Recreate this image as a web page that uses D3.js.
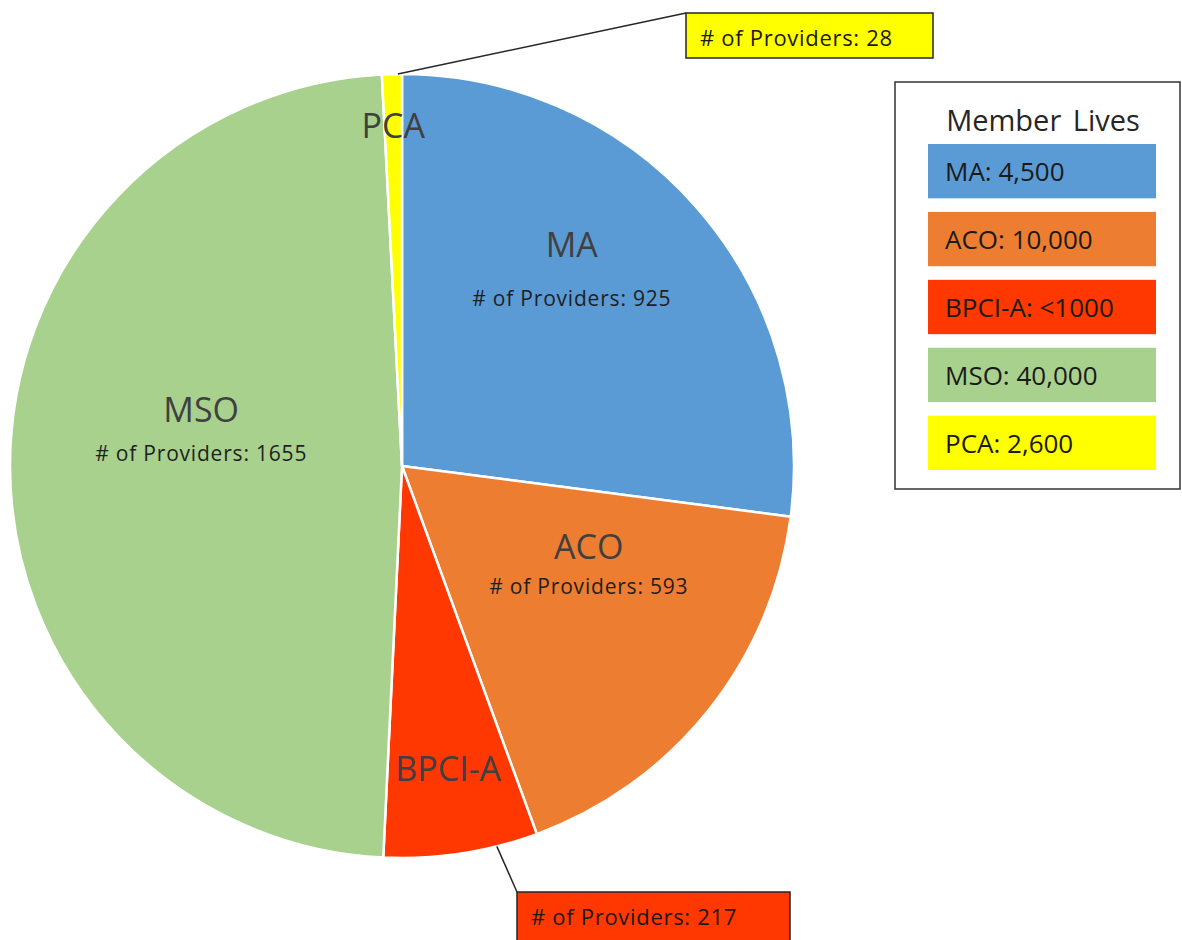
<!DOCTYPE html>
<html>
<head>
<meta charset="utf-8">
<script src="https://cdn.jsdelivr.net/npm/d3@7"></script>
<style>
  body { margin: 0; background: #fff; }
  svg { display: block; font-family: "Open Sans", "Noto Sans", sans-serif; }
</style>
</head>
<body>
<script>
// data
var categories = ['MA', 'ACO', 'BPCI-A', 'MSO', 'PCA'];
var providers = [925, 593, 217, 1655, 28];
var memberLives = ['4,500', '10,000', '<1000', '40,000', '2,600'];
var colors = ['#5b9bd5', '#ed7d31', '#ff3700', '#a9d18e', '#ffff00'];

var width = 1182, height = 940;
var cx = 402, cy = 466, radius = 392;

// where the labels sit: fraction of radius + angle nudge (deg)
var labelLayout = {
  'MA':     { r: 0.66, nudge: -7.7, gap: 27, big: true },
  'ACO':    { r: 0.54, nudge: -10.6, gap: 20, big: true },
  'BPCI-A': { r: 0.78, nudge: 0, big: false },
  'MSO':    { r: 0.52, nudge: 10, gap: 22, big: true },
  'PCA':    { r: 0.87, nudge: 0, big: false }
};
// callouts for the thin slices
var callouts = {
  'PCA':    { angle: -0.6, box: [686, 13, 247, 45] },
  'BPCI-A': { angle: 166, box: [517, 892, 273, 60] }
};

var rad = a => a * Math.PI / 180;
var polar = (deg, r) => [cx + r * Math.sin(rad(deg)), cy - r * Math.cos(rad(deg))];

var svg = d3.select('body').append('svg')
    .attr('width', width)
    .attr('height', height);

var pie = d3.pie().sort(null).value(d => d.value);
var arc = d3.arc().innerRadius(0).outerRadius(radius);

var data = categories.map((c, i) => ({ name: c, value: providers[i], lives: memberLives[i], color: colors[i] }));
var arcs = pie(data);

var g = svg.append('g').attr('transform', `translate(${cx},${cy})`);

g.selectAll('path.slice')
  .data(arcs)
  .enter().append('path')
    .attr('class', 'slice')
    .attr('d', arc)
    .attr('fill', d => d.data.color)
    .attr('stroke', '#fff')
    .attr('stroke-width', 2.5);

// labels
arcs.forEach(function(d) {
  var lay = labelLayout[d.data.name];
  var mid = (d.startAngle + d.endAngle) / 2 * 180 / Math.PI + lay.nudge;
  var p = polar(mid, lay.r * radius);
  if (lay.big) {
    svg.append('text')
      .attr('x', p[0]).attr('y', p[1] - lay.gap)
      .attr('text-anchor', 'middle').attr('dominant-baseline', 'central')
      .attr('fill', '#404040').attr('font-size', 34)
      .text(d.data.name);
    svg.append('text')
      .attr('x', p[0]).attr('y', p[1] + lay.gap)
      .attr('text-anchor', 'middle').attr('dominant-baseline', 'central')
      .attr('fill', '#1f1f1f').attr('font-size', 21)
      .attr('letter-spacing', 0.8)
      .text('# of Providers: ' + d.data.value);
  } else {
    svg.append('text')
      .attr('x', p[0]).attr('y', p[1])
      .attr('text-anchor', 'middle').attr('dominant-baseline', 'central')
      .attr('fill', '#404040').attr('font-size', 34)
      .text(d.data.name);
  }
});

// callout boxes
arcs.filter(d => callouts[d.data.name]).forEach(function(d) {
  var c = callouts[d.data.name];
  var start = polar(c.angle, radius);
  svg.append('line')
    .attr('x1', start[0]).attr('y1', start[1])
    .attr('x2', c.box[0]).attr('y2', c.box[1])
    .attr('stroke', '#262626').attr('stroke-width', 1.5);
  svg.append('rect')
    .attr('x', c.box[0]).attr('y', c.box[1])
    .attr('width', c.box[2]).attr('height', c.box[3])
    .attr('fill', d.data.color)
    .attr('stroke', '#262626').attr('stroke-width', 1.5);
  svg.append('text')
    .attr('x', c.box[0] + 14).attr('y', c.box[1] + 24)
    .attr('dominant-baseline', 'central')
    .attr('fill', '#1a1a1a').attr('font-size', 22)
    .attr('letter-spacing', 0.7)
    .text('# of Providers: ' + d.data.value);
});

// legend
var legend = svg.append('g');
legend.append('rect')
  .attr('x', 895).attr('y', 82).attr('width', 285).attr('height', 407)
  .attr('fill', '#fff').attr('stroke', '#333').attr('stroke-width', 1.5);
legend.append('text')
  .attr('x', 1043).attr('y', 119)
  .attr('text-anchor', 'middle').attr('dominant-baseline', 'central')
  .attr('fill', '#262626').attr('font-size', 29)
  .attr('word-spacing', 4)
  .text('Member Lives');

var ly = d3.scaleBand().domain(categories).range([144, 470]).paddingInner(0.2);
var item = legend.selectAll('g.item')
  .data(data)
  .enter().append('g').attr('class', 'item');
item.append('rect')
  .attr('x', 928).attr('y', d => ly(d.name))
  .attr('width', 228).attr('height', ly.bandwidth())
  .attr('fill', d => d.color);
item.append('text')
  .attr('x', 945).attr('y', d => ly(d.name) + ly.bandwidth() / 2)
  .attr('dominant-baseline', 'central')
  .attr('fill', '#1a1a1a').attr('font-size', 26)
  .text(d => d.name + ': ' + d.lives);
</script>
</body>
</html>
